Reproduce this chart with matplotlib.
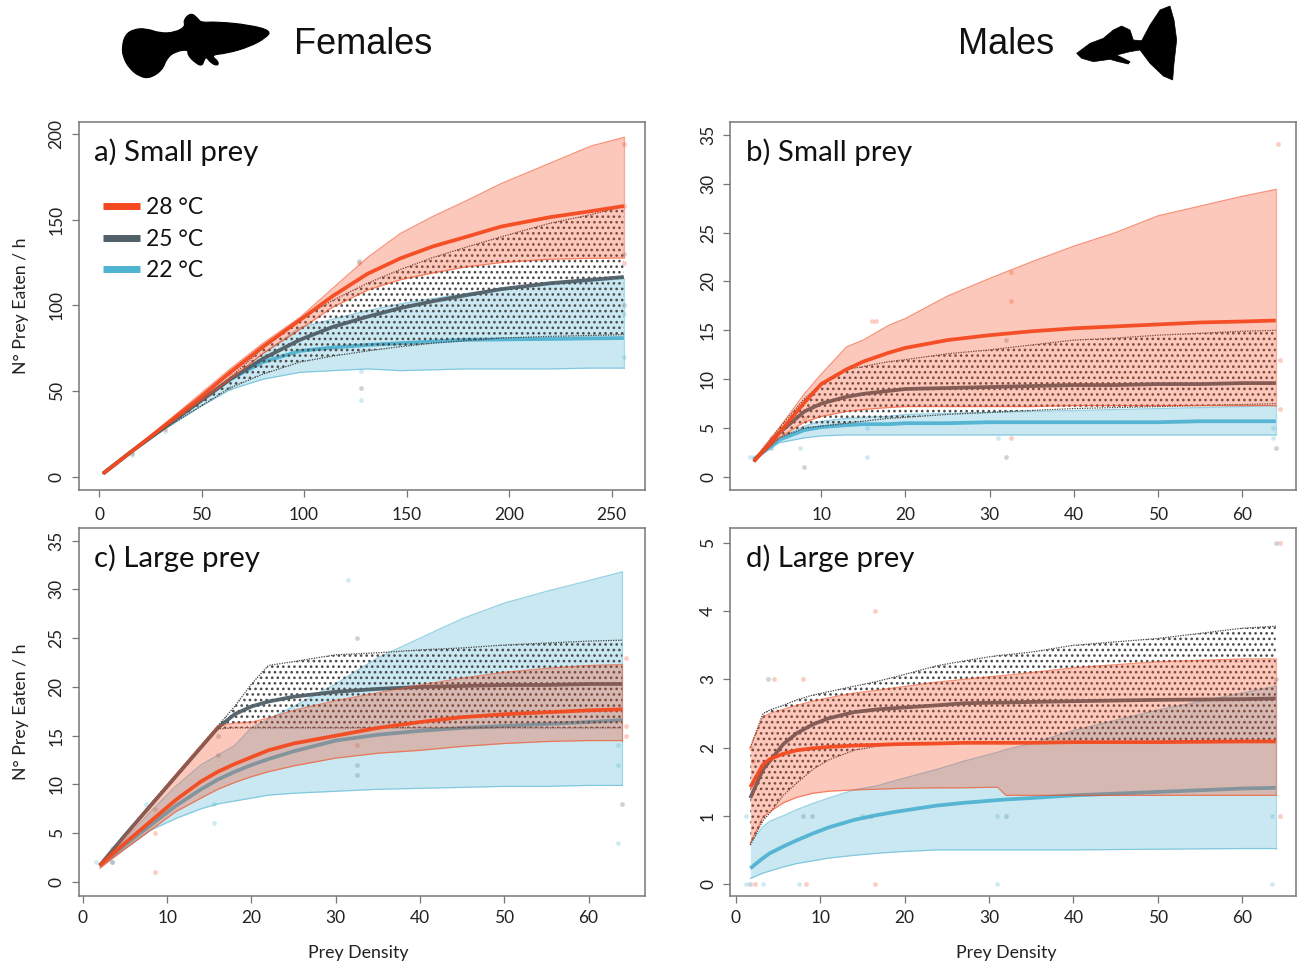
import matplotlib
matplotlib.use("Agg")
import matplotlib.pyplot as plt
from matplotlib.lines import Line2D
from matplotlib.patches import Polygon, PathPatch
from matplotlib.path import Path

W, H = 1306, 965
RED, GRAY, BLUE = "#F4491F", "#505F68", "#4FB3D2"
plt.rcParams['font.family'] = ['Lato', 'DejaVu Sans']
plt.rcParams['hatch.linewidth'] = 1.1

# ---- panel a
a_x = [2,16,32,48,64,80,98,114,131,147,163,179,196,220,240,256]
a_28_hi = [2,15,31,47,63,78,93,110,128,142,152,161,171,183,193,198]
a_28_m  = [2,15,30,45,61,76,91.5,105.5,118.5,127.5,134.5,140,146,151.5,155,158]
a_28_lo = [2,15,29,43,57,72,86,99,109,115,119,122.5,125,127,127.5,127.7]
a_25_hi = [2,15,29,43,58,75,92,103,113,121,128,134,140,148,153,158]
a_25_m  = [2,15,29,43,57,69,80,87.5,93.5,98.5,102.5,106,109.5,113,115,116.6]
a_25_lo = [2,15,28,40,52,60,67,70.5,73.5,76,78,79.5,81,82,82.5,83]
a_22_hi = [2,15,29,43,57,72,87,92,97,101,104,107,109.5,112,114,115.5]
a_22_m  = [2,15,29,43,57,67,73.5,75.5,77,78,79,80,80.2,80.5,80.8,81]
a_22_lo = [2,14.5,28,40,51,57,61,62,63,62,62.5,63,63,63,63.5,63.5]
a_pts_28 = [(127,125),(256,194),(256,158),(256,125),(64,60),(32,28)]
a_pts_25 = [(127,126),(128,52),(256,130),(256,100),(64,52),(16,14)]
a_pts_22 = [(128,62),(128,45),(256,95),(256,70),(32,27),(16,13)]

# ---- panel b
b_x = [2,5,8,10,13,15,18,20,25,30,35,40,45,50,55,60,64]
b_28_hi = [1.8,5,8.5,10.5,13.3,14,15.5,16.2,18.5,20.3,22,23.6,25,26.7,27.7,28.7,29.4]
b_28_m  = [1.6,4.5,7.6,9.5,11,11.8,12.7,13.2,14,14.5,14.9,15.2,15.4,15.6,15.8,15.9,16]
b_28_lo = [1.6,4,5.6,6.2,6.7,6.9,7.1,7.2,7.2,7.2,7.2,7.3,7.3,7.3,7.3,7.3,7.3]
b_25_hi = [1.6,5,8,9.5,11,11.3,11.8,12,12.6,13,13.5,14,14.2,14.5,14.7,14.9,15]
b_25_m  = [1.6,4.5,6.7,7.5,8.2,8.5,8.8,9,9.1,9.2,9.3,9.4,9.4,9.5,9.5,9.6,9.6]
b_25_lo = [1.6,4,5,5.2,5.5,5.7,6,6.1,6.4,6.6,6.8,7,7.1,7.2,7.3,7.4,7.5]
b_22_hi = [1.8,4,5.2,5.7,6,6.1,6.2,6.4,6.5,6.6,6.7,6.8,6.9,7,7.1,7.2,7.3]
b_22_m  = [1.8,3.8,4.8,5.1,5.3,5.4,5.4,5.5,5.5,5.6,5.6,5.6,5.6,5.6,5.7,5.7,5.7]
b_22_lo = [1.8,3.5,4,4.2,4.3,4.3,4.3,4.3,4.3,4.3,4.3,4.3,4.3,4.3,4.3,4.3,4.3]
b_pts_28 = [(16,16),(16.5,16),(32.5,21),(32.5,18),(32.5,4),(64.3,34),(64.5,12),(64.5,7),(4,4),(8,6)]
b_pts_25 = [(8,1),(32,2),(32,14),(16,8),(64,3),(4,3)]
b_pts_22 = [(1.5,2),(7.5,3),(15.5,2),(15.5,5),(31,4),(63.7,4),(63.7,5),(2,2)]

# ---- panel c
c_x = [2,5,8,11,14,16,18,20,22,25,30,35,40,45,50,55,60,64]
c_28_hi = [1.7,4.8,7.9,11,14,16,16.3,16.4,16.8,17.6,18.6,19.4,20.2,20.9,21.5,21.9,22.2,22.3]
c_28_m  = [1.7,4,6.2,8.4,10.3,11.3,12.1,12.8,13.5,14.2,15,15.8,16.4,16.9,17.2,17.4,17.6,17.7]
c_28_lo = [1.4,3.4,5.3,7.2,8.6,9.5,10.2,10.8,11.3,11.9,12.7,13.2,13.5,13.9,14.2,14.4,14.5,14.5]
c_25_hi = [1.7,4.9,8,11,14,16,18,20.3,22.2,22.6,23.3,23.5,23.8,24,24.3,24.5,24.7,24.8]
c_25_m  = [1.7,4.8,7.8,10.8,13.8,15.8,17.2,18,18.5,19,19.5,19.8,20,20.1,20.2,20.2,20.3,20.3]
c_25_lo = [1.7,4.7,7.7,10.7,13.7,15.7,15.8,15.8,15.8,15.8,15.8,15.8,15.8,15.8,15.8,15.8,15.8,15.8]
c_22_hi = [1.7,4.4,7.2,9.8,12,13,14,15.8,16.7,18,20.3,23,25,27,28.6,29.8,30.9,31.8]
c_22_m  = [1.7,3.8,5.8,7.8,9.5,10.5,11.3,12,12.6,13.4,14.5,15.1,15.5,15.8,16,16.2,16.4,16.6]
c_22_lo = [1.6,3.4,5.3,6.5,7.5,8,8.3,8.6,8.9,9.1,9.3,9.5,9.6,9.7,9.8,9.8,9.9,9.9]
c_pts_28 = [(8.5,1),(8.5,5),(32.5,14),(64.5,23),(64.5,16),(64.5,15),(8.5,7.5)]
c_pts_25 = [(32.5,25),(32.5,12),(32.5,11),(64,8),(16,15),(16,13),(3.5,2)]
c_pts_22 = [(31.5,31),(1.5,2),(7.5,8),(15.5,6),(15.5,8),(3.5,2),(3.5,3.5),(63.5,4),(63.5,12),(63.5,14)]

# ---- panel d
d_x = [1.7,3.2,4,5.6,7.2,9.1,11,14,16.7,19,23.8,27,31,32,35,40,50,60,64]
d_28_hi = [2,2.45,2.5,2.56,2.62,2.68,2.73,2.8,2.84,2.88,2.96,3,3.05,3.06,3.1,3.17,3.26,3.3,3.3]
d_28_m  = [1.42,1.75,1.83,1.91,1.96,1.99,2.01,2.03,2.04,2.05,2.06,2.07,2.07,2.07,2.07,2.08,2.08,2.09,2.09]
d_28_lo = [0.6,0.98,1.06,1.19,1.27,1.33,1.36,1.38,1.39,1.4,1.41,1.41,1.42,1.3,1.3,1.3,1.3,1.3,1.3]
d_25_hi = [2,2.5,2.55,2.62,2.7,2.77,2.82,2.9,2.97,3.04,3.2,3.27,3.35,3.36,3.4,3.5,3.6,3.75,3.78]
d_25_m  = [1.26,1.68,1.8,2.05,2.21,2.34,2.43,2.52,2.56,2.58,2.62,2.65,2.66,2.66,2.67,2.68,2.7,2.71,2.72]
d_25_lo = [0.57,0.93,1.04,1.3,1.48,1.68,1.82,1.96,2.02,2.05,2.07,2.08,2.08,2.08,2.08,2.08,2.09,2.09,2.1]
d_22_hi = [0.6,0.84,0.92,1.0,1.09,1.18,1.26,1.38,1.44,1.52,1.68,1.8,1.93,1.97,2.06,2.25,2.55,2.8,2.9]
d_22_m  = [0.23,0.38,0.45,0.55,0.64,0.74,0.83,0.94,1.01,1.06,1.15,1.19,1.23,1.24,1.26,1.3,1.35,1.4,1.41]
d_22_lo = [0.08,0.16,0.19,0.25,0.3,0.34,0.38,0.42,0.45,0.47,0.5,0.5,0.5,0.5,0.5,0.5,0.51,0.52,0.52]
d_pts_28 = [(4.5,3),(8,3),(16.5,4),(64.5,5),(64.5,1),(16.5,0),(8.3,0),(2.2,0),(16,1),(1.8,2),(2,1.8)]
d_pts_25 = [(3.8,3),(64,5),(64,3),(8,1),(1.7,0),(32,1),(9,1)]
d_pts_22 = [(1.2,0),(7.5,0),(3.2,0),(1.2,1),(63.5,0),(63.5,1),(31,0),(31,1),(15,1)]

# ---- silhouettes (pixels)
female_fish = [(293,140),(300,105),(320,88),(350,85),(385,100),(420,97),(445,80),(440,60),(458,38),
               (475,55),(482,68),(520,65),(600,75),(650,92),(640,112),(600,140),(545,160),(505,165),
               (525,185),(522,198),(505,188),(495,170),(490,180),(485,198),(470,190),(450,165),
               (452,148),(420,155),(400,175),(390,210),(360,235),(335,230),(310,205),(295,170)]
male_fish = [(380,160),(420,130),(460,115),(490,90),(515,78),(540,90),(550,120),(575,122),(600,75),
             (630,30),(660,18),(672,60),(680,120),(672,190),(668,240),(640,228),(600,190),(570,150),
             (540,155),(500,165),(540,185),(535,192),(505,185),(480,178),(430,185),(395,175)]

fig = plt.figure(figsize=(W/100, H/100), dpi=100, facecolor="white")

def mkax(l, r, t, b):
    return fig.add_axes([l/W, 1-b/H, (r-l)/W, (b-t)/H])

def band(ax, x, lo, m, hi, pts, color, stip):
    xp, yp = zip(*pts)
    ax.scatter(xp, yp, s=12, color=color, alpha=0.27, lw=0, zorder=1)
    if stip:
        ax.fill_between(x, lo, hi, facecolor="none", edgecolor="#4a4a4a", hatch="...", lw=0, zorder=2)
        ax.plot(x, hi, color="#444444", lw=0.9, ls=(0, (1, 1)), zorder=2)
        ax.plot(x, lo, color="#444444", lw=0.9, ls=(0, (1, 1)), zorder=2)
    else:
        ax.fill_between(x, lo, hi, color=color, alpha=0.3, lw=0, zorder=2)
        ax.plot(x, hi, color=color, lw=0.9, alpha=0.6, zorder=2)
        ax.plot(x, lo, color=color, lw=0.9, alpha=0.6, zorder=2)
        ax.plot([x[-1], x[-1]], [lo[-1], hi[-1]], color=color, lw=0.9, alpha=0.4, zorder=2)
    ax.plot(x, m, color=color, lw=2.7, alpha=0.95, solid_capstyle="butt", zorder=2)

def panel(ax, title, xt, yt, xlim, ylim, x, d28, d25, d22, p28, p25, p22, xpad):
    band(ax, x, d22[0], d22[1], d22[2], p22, BLUE, False)
    band(ax, x, d25[0], d25[1], d25[2], p25, GRAY, True)
    band(ax, x, d28[0], d28[1], d28[2], p28, RED, False)
    ax.set_xlim(xlim); ax.set_ylim(ylim)
    ax.set_xticks(xt); ax.set_yticks(yt)
    ax.tick_params(length=5, width=0.9, color="#777777", labelsize=12.5, labelcolor="#222222", pad=5)
    ax.tick_params(axis="x", pad=xpad)
    for lab in ax.get_yticklabels():
        lab.set_rotation(90); lab.set_va("center")
    for s in ax.spines.values():
        s.set_color("#777777"); s.set_linewidth(1.1)
    ax.text(0.028, 0.918, title, transform=ax.transAxes, fontsize=21.2, color="#111111", va="center", ha="left")

ax_a = mkax(78.5, 645, 122, 490)
panel(ax_a, "a) Small prey", [0,50,100,150,200,250], [0,50,100,150,200], (-10,266.3), (-7.6,207),
      a_x, (a_28_lo,a_28_m,a_28_hi), (a_25_lo,a_25_m,a_25_hi), (a_22_lo,a_22_m,a_22_hi), a_pts_28, a_pts_25, a_pts_22, 7)
ax_b = mkax(730, 1296, 122, 490)
panel(ax_b, "b) Small prey", [10,20,30,40,50,60], [0,5,10,15,20,25,30,35], (-0.83,66.4), (-1.33,36.3),
      b_x, (b_28_lo,b_28_m,b_28_hi), (b_25_lo,b_25_m,b_25_hi), (b_22_lo,b_22_m,b_22_hi), b_pts_28, b_pts_25, b_pts_22, 7)
ax_c = mkax(78.5, 645, 528, 896)
panel(ax_c, "c) Large prey", [0,10,20,30,40,50,60], [0,5,10,15,20,25,30,35], (-0.53,66.7), (-1.44,36.3),
      c_x, (c_28_lo,c_28_m,c_28_hi), (c_25_lo,c_25_m,c_25_hi), (c_22_lo,c_22_m,c_22_hi), c_pts_28, c_pts_25, c_pts_22, 5)
ax_d = mkax(730, 1296, 528, 896)
panel(ax_d, "d) Large prey", [0,10,20,30,40,50,60], [0,1,2,3,4,5], (-0.71,66.4), (-0.176,5.22),
      d_x, (d_28_lo,d_28_m,d_28_hi), (d_25_lo,d_25_m,d_25_hi), (d_22_lo,d_22_m,d_22_hi), d_pts_28, d_pts_25, d_pts_22, 5)

handles = [Line2D([], [], color=c, lw=5, solid_capstyle="butt") for c in (RED, GRAY, BLUE)]
ax_a.legend(handles, ["28 °C", "25 °C", "22 °C"], loc="upper left", bbox_to_anchor=(0.043, 0.795),
            frameon=False, fontsize=16.5, handlelength=1.6, handletextpad=0.3, labelspacing=0.45,
            borderaxespad=0, borderpad=0, labelcolor="#111111")

ax_a.set_ylabel("N° Prey Eaten / h", fontsize=12.7, color="#222222", labelpad=14)
ax_c.set_ylabel("N° Prey Eaten / h", fontsize=12.7, color="#222222", labelpad=14)
ax_c.set_xlabel("Prey Density", fontsize=12.8, color="#222222", labelpad=14, x=0.493)
ax_d.set_xlabel("Prey Density", fontsize=12.8, color="#222222", labelpad=14, x=0.488)

fig.text(294/W, 1-44/H, "Females", family=["Liberation Sans"], fontsize=26, color="#111111", va="center")
fig.text(958/W, 1-44/H, "Males", family=["Liberation Sans"], fontsize=26, color="#111111", va="center")

ov = fig.add_axes([0, 0, 1, 1], facecolor="none")
ov.set_xlim(0, W); ov.set_ylim(H, 0); ov.axis("off")

def rounded(pts):
    n = len(pts)
    mids = [((pts[i][0]+pts[(i+1) % n][0])/2, (pts[i][1]+pts[(i+1) % n][1])/2) for i in range(n)]
    verts = [mids[-1]]
    codes = [Path.MOVETO]
    for i in range(n):
        verts += [pts[i], mids[i]]
        codes += [Path.CURVE3, Path.CURVE3]
    return Path(verts, codes)

ov.add_patch(PathPatch(rounded([(px/2.4, py/3) for px, py in female_fish]), fc="black", ec="black", lw=0.8))
ov.add_patch(Polygon([(950+px/3, py/3) for px, py in male_fish], closed=True, fc="black", ec="black", lw=0.5))

fig.savefig("out.png", dpi=100)
